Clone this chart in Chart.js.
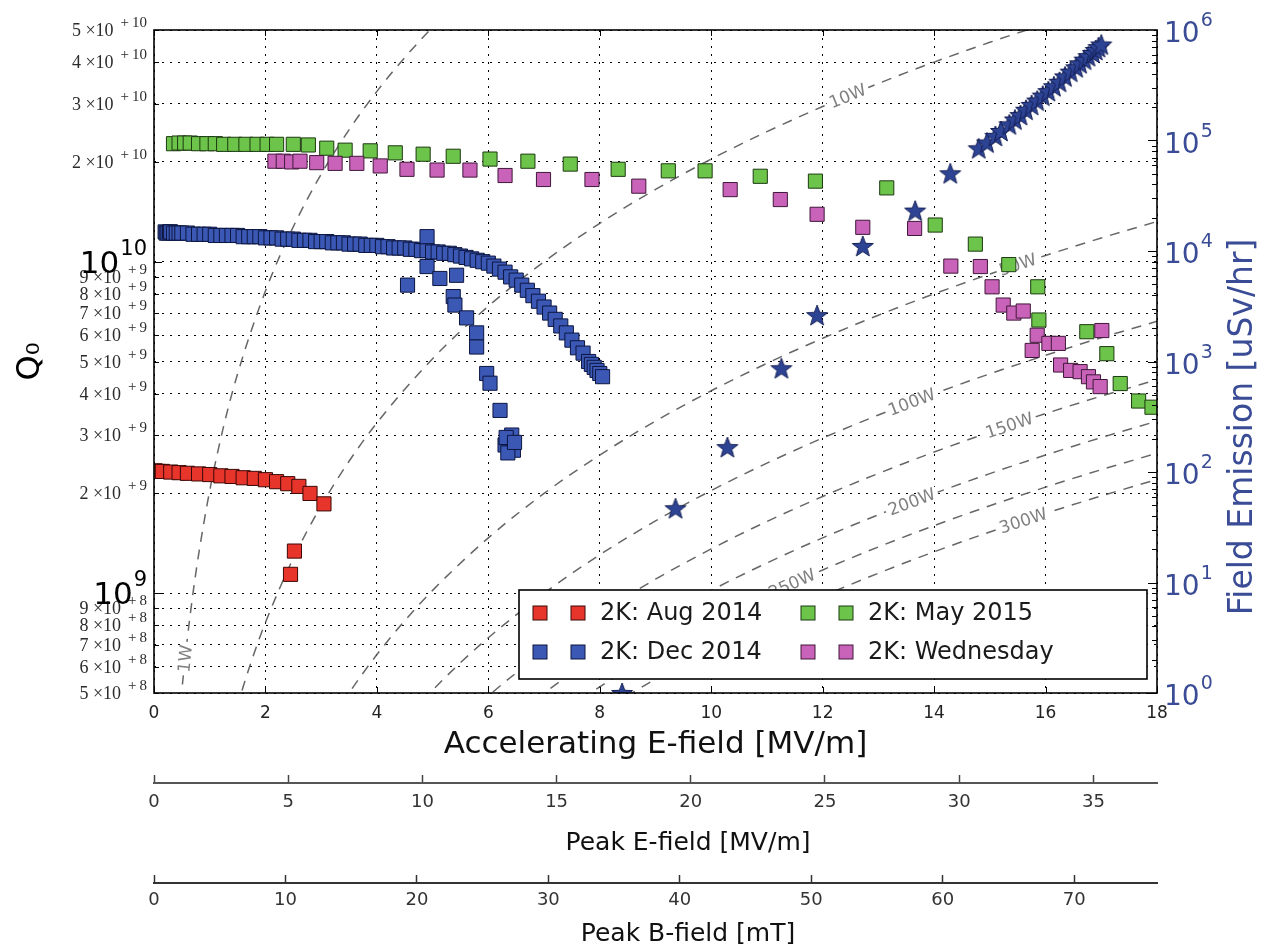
<!DOCTYPE html>
<html><head><meta charset="utf-8">
<script src="https://cdn.jsdelivr.net/npm/chart.js@4.4.0/dist/chart.umd.min.js"></script>
<style>html,body{margin:0;padding:0;background:#fff;}#wrap{width:1263px;height:952px;}</style>
</head><body><div id="wrap"><canvas id="c" width="1263" height="952"></canvas></div>
<script>
// ---------------- axis ticks ----------------
const accelTicks = [0,2,4,6,8,10,12,14,16,18];
const peakETicks = [0,5,10,15,20,25,30,35];
const peakBTicks = [0,10,20,30,40,50,60,70];
const qTicks = [5e8,6e8,7e8,8e8,9e8,1e9,2e9,3e9,4e9,5e9,6e9,7e9,8e9,9e9,1e10,2e10,3e10,4e10,5e10];
const qTickLabels = ['5 \u00d710^+8','6 \u00d710^+8','7 \u00d710^+8','8 \u00d710^+8','9 \u00d710^+8','10^9',
  '2 \u00d710^+9','3 \u00d710^+9','4 \u00d710^+9','5 \u00d710^+9','6 \u00d710^+9','7 \u00d710^+9','8 \u00d710^+9','9 \u00d710^+9','10^10',
  '2 \u00d710^+10','3 \u00d710^+10','4 \u00d710^+10','5 \u00d710^+10'];
const feTicks = [1,10,100,1000,1e4,1e5,1e6];
const feTickLabels = ['10^0','10^1','10^2','10^3','10^4','10^5','10^6'];
const axisTitles = {accel: 'Accelerating E-field [MV/m]', peakE: 'Peak E-field [MV/m]', peakB: 'Peak B-field [mT]',
  q: 'Q\u2080', fe: 'Field Emission [uSv/hr]'};

// ---------------- series (E_acc [MV/m], Q0) ----------------
const aug2014 = [[0.02,2.34e9],[0.08,2.33e9],[0.15,2.33e9],[0.3,2.32e9],[0.45,2.31e9],[0.6,2.3e9],[0.8,2.29e9],
  [1.0,2.28e9],[1.2,2.26e9],[1.4,2.25e9],[1.6,2.23e9],[1.8,2.22e9],[2.0,2.2e9],[2.2,2.17e9],[2.4,2.14e9],
  [2.6,2.1e9],[2.8,2.0e9],[3.05,1.86e9],[2.52,1.34e9],[2.45,1.14e9]];
const dec2014 = [[0.2,1.23e10],[0.22,1.22e10],[0.25,1.22e10],[0.28,1.23e10],[0.3,1.23e10],[0.35,1.22e10],[0.4,1.22e10],[0.45,1.22e10],[0.5,1.22e10],
  [0.6,1.22e10],[0.7,1.21e10],[0.8,1.21e10],[0.9,1.21e10],[1.0,1.21e10],[1.1,1.2e10],[1.2,1.2e10],[1.3,1.2e10],
  [1.4,1.2e10],[1.5,1.2e10],[1.6,1.19e10],[1.7,1.19e10],[1.8,1.19e10],[1.9,1.19e10],[2.0,1.18e10],[2.1,1.18e10],
  [2.2,1.18e10],[2.3,1.17e10],[2.4,1.17e10],[2.5,1.17e10],[2.6,1.16e10],[2.7,1.16e10],[2.8,1.16e10],[2.9,1.15e10],
  [3.0,1.15e10],[3.1,1.15e10],[3.2,1.14e10],[3.3,1.14e10],[3.4,1.14e10],[3.5,1.13e10],[3.6,1.13e10],[3.7,1.13e10],
  [3.8,1.12e10],[3.9,1.12e10],[4.0,1.12e10],[4.1,1.11e10],[4.2,1.11e10],[4.3,1.1e10],[4.4,1.1e10],[4.5,1.1e10],
  [4.6,1.09e10],[4.7,1.09e10],[4.8,1.08e10],[4.9,1.08e10],[5.0,1.07e10],[5.1,1.07e10],[5.2,1.06e10],[5.3,1.06e10],
  [5.4,1.05e10],[5.5,1.04e10],[5.6,1.03e10],[5.7,1.02e10],[5.8,1.01e10],[5.9,1.0e10],[6.0,0.99e10],[6.1,0.97e10],
  [6.2,0.95e10],[6.3,0.93e10],[6.4,0.9e10],[6.5,0.88e10],[6.6,0.85e10],[6.7,0.82e10],[6.8,0.79e10],[6.9,0.76e10],
  [7.0,0.73e10],[7.1,0.7e10],[7.2,0.67e10],[7.3,0.64e10],[7.4,0.61e10],[7.5,0.58e10],[7.6,0.55e10],[7.7,0.53e10],
  [7.8,0.5e10],[7.85,0.49e10],[7.9,0.48e10],[7.95,0.47e10],[8.0,0.46e10],[8.05,0.45e10],
  [4.55,0.85e10],[4.9,1.19e10],[4.9,0.967e10],[5.13,0.89e10],[5.43,0.91e10],[5.37,0.785e10],[5.4,0.74e10],[5.61,0.677e10],
  [5.79,0.61e10],[5.79,0.553e10],[5.97,0.46e10],[6.03,0.43e10],[6.21,0.356e10],[6.39,0.289e10],[6.3,0.28e10],
  [6.45,0.27e10],[6.35,0.265e10],[6.42,0.3e10],[6.32,0.295e10],[6.47,0.285e10]];
const may2015 = [[0.35,2.27e10],[0.45,2.28e10],[0.55,2.28e10],[0.65,2.28e10],[0.8,2.27e10],[0.95,2.27e10],[1.1,2.27e10],
  [1.25,2.26e10],[1.45,2.26e10],[1.65,2.26e10],[1.85,2.26e10],[2.03,2.26e10],[2.2,2.26e10],[2.5,2.26e10],[2.77,2.25e10],
  [3.1,2.2e10],[3.43,2.17e10],[3.88,2.16e10],[4.33,2.13e10],[4.83,2.11e10],[5.37,2.08e10],[6.03,2.04e10],[6.71,2.01e10],
  [7.47,1.97e10],[8.33,1.9e10],[9.23,1.88e10],[9.89,1.88e10],[10.88,1.81e10],[11.87,1.75e10],[13.15,1.67e10],
  [14.02,1.29e10],[14.74,1.13e10],[15.34,0.98e10],[15.86,0.84e10],[15.88,0.667e10],[16.74,0.615e10],[17.1,0.528e10],
  [17.34,0.429e10],[17.67,0.38e10],[17.91,0.364e10]];
const wednesday = [[2.17,2.01e10],[2.32,2.01e10],[2.47,2.0e10],[2.62,2.01e10],[2.92,1.99e10],[3.25,1.98e10],[3.64,1.98e10],
  [4.06,1.945e10],[4.54,1.9e10],[5.08,1.89e10],[5.67,1.89e10],[6.3,1.82e10],[6.99,1.77e10],[7.86,1.77e10],[8.7,1.69e10],
  [10.34,1.65e10],[11.24,1.54e10],[11.9,1.39e10],[12.72,1.27e10],[13.65,1.26e10],[14.3,0.97e10],[14.83,0.967e10],
  [15.04,0.84e10],[15.24,0.74e10],[15.43,0.7e10],[15.6,0.71e10],[15.85,0.6e10],[15.76,0.54e10],[16.06,0.567e10],
  [16.23,0.567e10],[16.27,0.488e10],[16.45,0.47e10],[16.62,0.466e10],[16.77,0.45e10],[16.86,0.434e10],[16.98,0.42e10],
  [17.01,0.62e10]];
// field emission (E_acc, uSv/hr) on right axis
const fieldEmission = [[8.4,1.0],[9.36,47],[10.29,168],[11.26,869],[11.9,2630],[12.72,1.11e4],[13.66,2.32e4],[14.29,5.05e4],
  [14.8,8.5e4],[14.95,9.6e4],[15.1,1.1e5],[15.2,1.22e5],[15.35,1.4e5],[15.45,1.55e5],[15.55,1.7e5],[15.65,1.9e5],
  [15.75,2.1e5],[15.85,2.3e5],[15.95,2.55e5],[16.05,2.8e5],[16.15,3.1e5],[16.25,3.4e5],[16.35,3.8e5],[16.45,4.2e5],
  [16.55,4.6e5],[16.62,5.0e5],[16.7,5.4e5],[16.77,5.8e5],[16.85,6.2e5],[16.9,6.6e5],[16.95,7.0e5],[17.0,7.4e5]];

// ---------------- dissipated-power contours (E_acc, Q0) ----------------
const contour1W = [[0.45,4.13e8],[0.5,5.1e8],[0.6,7.34e8],[0.7,1.0e9],[0.8,1.306e9],[1.0,2.04e9],[1.25,3.19e9],[1.5,4.59e9],
  [2.0,8.16e9],[2.5,1.275e10],[3.0,1.836e10],[3.5,2.5e10],[4.0,3.264e10],[4.5,4.13e10],[5.0,5.1e10],[5.2,5.52e10]];
const contour10W = [[1.4,4.0e8],[1.6,5.22e8],[1.8,6.61e8],[2,8.16e8],[2.5,1.275e9],[3,1.836e9],[3.5,2.5e9],[4,3.264e9],
  [5,5.1e9],[6,7.34e9],[7,1.0e10],[8,1.306e10],[9,1.652e10],[10,2.04e10],[11,2.468e10],[12,2.938e10],[13,3.448e10],
  [14,4.0e10],[15,4.59e10],[16,5.22e10]];
const contour50W = [[3.2,4.18e8],[3.5,5.0e8],[4,6.53e8],[4.5,8.26e8],[5,1.02e9],[6,1.469e9],[7,2.0e9],[8,2.611e9],
  [9,3.305e9],[10,4.08e9],[11,4.937e9],[12,5.875e9],[13,6.895e9],[14,7.997e9],[15,9.18e9],[16,1.044e10],[17,1.179e10],[18,1.322e10]];
const contour100W = [[4.6,4.32e8],[5,5.1e8],[5.5,6.17e8],[6,7.34e8],[7,1.0e9],[8,1.306e9],[9,1.652e9],[10,2.04e9],
  [11,2.468e9],[12,2.938e9],[13,3.448e9],[14,3.998e9],[15,4.59e9],[16,5.22e9],[17,5.9e9],[18,6.61e9]];
const contour150W = [[5.6,4.26e8],[6,4.9e8],[6.5,5.75e8],[7,6.66e8],[8,8.7e8],[9,1.102e9],[10,1.36e9],[11,1.646e9],
  [12,1.958e9],[13,2.298e9],[14,2.666e9],[15,3.06e9],[16,3.482e9],[17,3.93e9],[18,4.406e9]];
const contour200W = [[6.6,4.44e8],[7,5.0e8],[7.5,5.74e8],[8,6.53e8],[9,8.26e8],[10,1.02e9],[11,1.234e9],[12,1.469e9],
  [13,1.724e9],[14,1.999e9],[15,2.295e9],[16,2.611e9],[17,2.948e9],[18,3.305e9]];
const contour250W = [[7.4,4.47e8],[8,5.22e8],[8.5,5.9e8],[9,6.61e8],[10,8.16e8],[11,9.87e8],[12,1.175e9],[13,1.379e9],
  [14,1.599e9],[15,1.836e9],[16,2.089e9],[17,2.358e9],[18,2.644e9]];
const contour300W = [[8.2,4.57e8],[9,5.51e8],[9.5,6.14e8],[10,6.8e8],[11,8.23e8],[12,9.79e8],[13,1.149e9],[14,1.333e9],
  [15,1.53e9],[16,1.741e9],[17,1.965e9],[18,2.203e9]];
const contourNames = ['1W','10W','50W','100W','150W','200W','250W','300W'];
const contourLabelE = [0.56,12.45,15.5,13.6,15.35,13.6,11.45,15.6];

// ---------------- helpers ----------------
const toPts = arr => arr.map(p => ({x: p[0], y: p[1]}));
const contourSets = [contour1W,contour10W,contour50W,contour100W,contour150W,contour200W,contour250W,contour300W];

const starImg = (() => {
  const c = document.createElement('canvas'); c.width = 24; c.height = 24;
  const g = c.getContext('2d'); g.beginPath();
  for (let i = 0; i < 10; i++) {
    const r = i % 2 === 0 ? 11 : 4.6, a = -Math.PI / 2 + i * Math.PI / 5;
    const px = 12 + r * Math.cos(a), py = 13 + r * Math.sin(a);
    i === 0 ? g.moveTo(px, py) : g.lineTo(px, py);
  }
  g.closePath(); g.fillStyle = '#2d4394'; g.fill();
  g.lineWidth = 1; g.strokeStyle = '#141f55'; g.stroke();
  return c;
})();

const datasets = [];
contourSets.forEach((cs, i) => datasets.push({
  type: 'line', label: contourNames[i], data: toPts(cs), xAxisID: 'x', yAxisID: 'yQ',
  borderColor: 'rgba(85,85,85,0.9)', borderWidth: 1.5, borderDash: [10, 8], pointRadius: 0,
  cubicInterpolationMode: 'monotone', fill: false, order: 10, isContour: true
}));
const sq = (label, data, fill, edge, order) => ({
  type: 'scatter', label, data: toPts(data), xAxisID: 'x', yAxisID: 'yQ', pointStyle: 'rect',
  pointRadius: 10, backgroundColor: fill, borderColor: edge, borderWidth: 1, order, inLegend: true
});
datasets.push(sq('2K: Aug 2014', aug2014, '#e8352c', '#3a0805', 5));
datasets.push(sq('2K: Dec 2014', dec2014, '#3a58b4', '#0d1640', 4));
datasets.push(sq('2K: May 2015', may2015, '#6cc44a', '#1d3a10', 3));
datasets.push(sq('2K: Wednesday', wednesday, '#c963b9', '#40183a', 2));
datasets.push({ type: 'scatter', label: 'Field Emission', data: toPts(fieldEmission), xAxisID: 'x', yAxisID: 'yFE',
  pointStyle: starImg, pointRadius: 11, order: 1 });

const setTicks = list => scale => { scale.ticks = list.map(v => ({value: v})); };
const FONT = '"DejaVu Sans", sans-serif';
const SERIF = '"Liberation Serif", serif';
const BLUE = '#3a4c95';

// contour labels: drawn right after the contours, below the markers
const contourLabelPlugin = {
  id: 'contourLabels',
  afterDatasetDraw(chart, args) {
    if (args.index !== 0) return;
    const {ctx} = chart; const xs = chart.scales.x, ys = chart.scales.yQ;
    ctx.save();
    contourSets.forEach((cs, i) => {
      const e = contourLabelE[i];
      let k = 0; while (k < cs.length - 2 && cs[k + 1][0] < e) k++;
      const p0x = xs.getPixelForValue(cs[k][0]), p0y = ys.getPixelForValue(cs[k][1]);
      const p1x = xs.getPixelForValue(cs[k + 1][0]), p1y = ys.getPixelForValue(cs[k + 1][1]);
      const t = (e - cs[k][0]) / (cs[k + 1][0] - cs[k][0]);
      const px = p0x + (p1x - p0x) * t, py = p0y + (p1y - p0y) * t;
      const ang = Math.atan2(p1y - p0y, p1x - p0x);
      ctx.translate(px, py); ctx.rotate(ang);
      ctx.font = '17px ' + FONT; ctx.textAlign = 'center'; ctx.textBaseline = 'middle';
      const w = ctx.measureText(contourNames[i]).width;
      ctx.fillStyle = '#fff'; ctx.fillRect(-w / 2 - 3, -6, w + 6, 12);
      ctx.fillStyle = 'rgba(120,120,120,0.95)'; ctx.fillText(contourNames[i], 0, 1);
      ctx.setTransform(1, 0, 0, 1, 0, 0);
    });
    ctx.restore();
  }
};

const decorPlugin = {
  id: 'decor',
  afterDatasetsDraw(chart) {
    const {ctx, chartArea: a} = chart; const xs = chart.scales.x, yq = chart.scales.yQ, yf = chart.scales.yFE;
    ctx.save();
    // spine ticks (inward)
    ctx.strokeStyle = '#000'; ctx.lineWidth = 1;
    ctx.beginPath();
    accelTicks.forEach(v => { const x = Math.round(xs.getPixelForValue(v)) + 0.5;
      ctx.moveTo(x, a.top); ctx.lineTo(x, a.top + 6); ctx.moveTo(x, a.bottom); ctx.lineTo(x, a.bottom - 6); });
    qTicks.forEach((v, i) => { const y = Math.round(yq.getPixelForValue(v)) + 0.5;
      const L = qTickLabels[i].startsWith('10^') ? 8 : 5; ctx.moveTo(a.left, y); ctx.lineTo(a.left + L, y); });
    for (let d = 0; d < 6; d++) for (let m = 1; m < 10; m++) {
      const v = m * Math.pow(10, d); const y = Math.round(yf.getPixelForValue(v)) + 0.5;
      const L = m === 1 ? 9 : 5; ctx.moveTo(a.right, y); ctx.lineTo(a.right - L, y);
    }
    ctx.stroke();
    // frame
    ctx.lineWidth = 1.6; ctx.strokeStyle = '#000';
    ctx.strokeRect(a.left, a.top, a.right - a.left, a.bottom - a.top);
    // legend
    const L = {l: 519, t: 590, r: 1147, b: 679};
    ctx.fillStyle = '#fff'; ctx.fillRect(L.l, L.t, L.r - L.l, L.b - L.t);
    ctx.lineWidth = 1.6; ctx.strokeRect(L.l, L.t, L.r - L.l, L.b - L.t);
    const cols = [540, 808], rows = [613, 652];
    const items = chart.data.datasets.filter(d => d.inLegend);
    items.forEach((d, i) => {
      const cx = cols[Math.floor(i / 2)], cy = rows[i % 2];
      [cx, cx + 38].forEach(mx => {
        ctx.fillStyle = d.backgroundColor; ctx.fillRect(mx - 7, cy - 7, 14, 14);
        ctx.strokeStyle = d.borderColor; ctx.lineWidth = 1; ctx.strokeRect(mx - 7, cy - 7, 14, 14);
      });
      ctx.fillStyle = '#1a1a1a'; ctx.font = '24px ' + FONT; ctx.textAlign = 'left'; ctx.textBaseline = 'middle';
      ctx.fillText(d.label, cx + 60, cy + 1);
    });
    ctx.restore();
  },
  afterDraw(chart) {
    const {ctx} = chart; const yq = chart.scales.yQ, yf = chart.scales.yFE;
    ctx.save(); ctx.textBaseline = 'alphabetic';
    // left axis tick labels (minor first, the big decade labels on top)
    const isMajor = i => qTickLabels[i].startsWith('10^');
    const order = qTicks.map((v, i) => i).sort((i, j) => (isMajor(i) ? 1 : 0) - (isMajor(j) ? 1 : 0));
    order.forEach(i => {
      const [base, exp] = qTickLabels[i].split('^'); const y = yq.getPixelForValue(qTicks[i]); const xr = 147;
      ctx.textAlign = 'right';
      if (isMajor(i)) {
        ctx.fillStyle = '#000'; ctx.font = '21px ' + FONT; const we = ctx.measureText(exp).width;
        ctx.fillText(exp, xr, y - 7);
        ctx.font = '31px ' + FONT; ctx.fillText(base, xr - we - 1, y + 11);
      } else {
        ctx.fillStyle = '#2b2b2b'; ctx.font = '15px ' + SERIF;
        const sup = exp.replace('+', '+\u2009');
        const we = ctx.measureText(sup).width;
        ctx.fillText(sup, xr, y - 3);
        ctx.font = '18px ' + SERIF; ctx.fillText(base, xr - we - 7, y + 6);
      }
    });
    // right axis tick labels
    feTicks.forEach((v, i) => {
      const [base, exp] = feTickLabels[i].split('^'); const y = yf.getPixelForValue(v);
      ctx.fillStyle = BLUE; ctx.textAlign = 'left';
      ctx.font = '28px ' + FONT; ctx.fillText(base, 1164, y + 12);
      const wb = ctx.measureText(base).width;
      ctx.font = '19px ' + FONT; ctx.fillText(exp, 1164 + wb + 1, y - 4);
    });
    // secondary x-axis titles
    ctx.fillStyle = '#111'; ctx.font = '25px ' + FONT; ctx.textAlign = 'center'; ctx.textBaseline = 'middle';
    ctx.fillText(axisTitles.peakE, 688, 843);
    ctx.fillText(axisTitles.peakB, 688, 934);
    // right axis title (reads bottom to top)
    ctx.translate(1243, 427); ctx.rotate(-Math.PI / 2);
    ctx.fillStyle = BLUE; ctx.font = '33px ' + FONT; ctx.textAlign = 'center'; ctx.textBaseline = 'middle';
    ctx.fillText(axisTitles.fe, 0, 0);
    ctx.restore();
  }
};

new Chart(document.getElementById('c'), {
  type: 'scatter',
  data: {datasets},
  options: {
    responsive: false, animation: false, devicePixelRatio: 1,
    layout: {padding: {top: 30, left: 0, right: 0, bottom: 0}},
    plugins: {legend: {display: false}, tooltip: {enabled: false}},
    scales: {
      x: {type: 'linear', position: 'bottom', weight: 1, min: 0, max: 18, afterBuildTicks: setTicks(accelTicks),
        ticks: {font: {family: FONT, size: 17}, color: '#222', padding: 10, maxRotation: 0, autoSkip: false},
        grid: {color: '#000', lineWidth: 1, drawTicks: false}, border: {display: false, dash: [2, 6]},
        title: {display: true, text: axisTitles.accel, font: {family: FONT, size: 31}, color: '#111', padding: {top: 0, bottom: 19}},
        afterFit: s => { s.height = 90; }},
      xE: {type: 'linear', position: 'bottom', weight: 2, min: 0, max: 37.37, afterBuildTicks: setTicks(peakETicks),
        ticks: {font: {family: FONT, size: 18}, color: '#333', padding: 17, maxRotation: 0, autoSkip: false},
        grid: {drawOnChartArea: false, drawTicks: true, tickLength: -8, tickColor: '#444', tickWidth: 1.5},
        border: {display: true, color: '#555', width: 2},
        title: {display: false},
        afterFit: s => { s.height = 100; }},
      xB: {type: 'linear', position: 'bottom', weight: 3, min: 0, max: 76.3, afterBuildTicks: setTicks(peakBTicks),
        ticks: {font: {family: FONT, size: 18}, color: '#333', padding: 15, maxRotation: 0, autoSkip: false},
        grid: {drawOnChartArea: false, drawTicks: true, tickLength: -8, tickColor: '#333', tickWidth: 1.5},
        border: {display: true, color: '#333', width: 2},
        title: {display: false},
        afterFit: s => { s.height = 69; }},
      yQ: {type: 'logarithmic', position: 'left', min: 5e8, max: 5e10, afterBuildTicks: setTicks(qTicks),
        ticks: {display: false}, grid: {color: '#000', lineWidth: 1, drawTicks: false}, border: {display: false, dash: [2, 6]},
        title: {display: true, text: axisTitles.q, font: {family: FONT, size: 32}, color: '#000', padding: {top: 11, bottom: 0}},
        afterFit: s => { s.width = 154; }},
      yFE: {type: 'logarithmic', position: 'right', min: 1, max: 1e6, afterBuildTicks: setTicks(feTicks),
        ticks: {display: false}, grid: {drawOnChartArea: false, drawTicks: false}, border: {display: false},
        afterFit: s => { s.width = 106; }}
    }
  },
  plugins: [contourLabelPlugin, decorPlugin]
});
</script></body></html>
